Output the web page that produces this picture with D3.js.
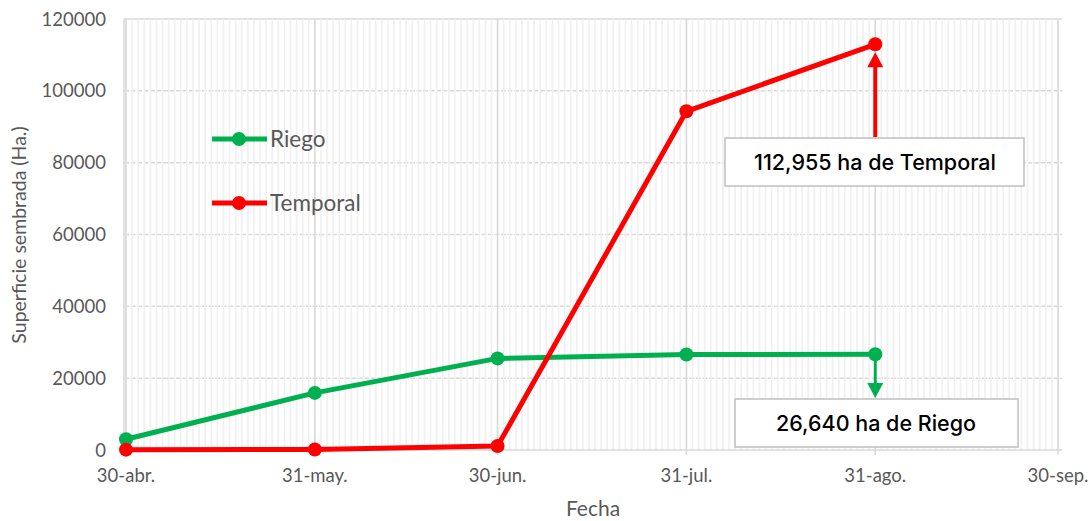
<!DOCTYPE html>
<html>
<head>
<meta charset="utf-8">
<script src="https://cdn.jsdelivr.net/npm/d3@7"></script>
<style>
  body { margin: 0; background: #fff; }
  svg { display: block; }
</style>
</head>
<body>
<div id="chart"></div>
<script>
// data
var fechas = ["2019-04-30", "2019-05-31", "2019-06-30", "2019-07-31", "2019-08-31"];
var riego = [3000, 15900, 25500, 26600, 26640];
var temporal = [100, 150, 1100, 94300, 112955];
var tickFechas = ["2019-04-30", "2019-05-31", "2019-06-30", "2019-07-31", "2019-08-31", "2019-09-30"];
var tickLabels = ["30-abr.", "31-may.", "30-jun.", "31-jul.", "31-ago.", "30-sep."];
var yTicks = [0, 20000, 40000, 60000, 80000, 100000, 120000];

var parse = d3.timeParse("%Y-%m-%d");
var W = 1092, H = 521;
var pLeft = 124, pRight = 1062, pTop = 19, pBottom = 450;

var svg = d3.select("#chart").append("svg").attr("width", W).attr("height", H);

var x = d3.scaleTime().domain([parse(tickFechas[0]), parse(tickFechas[5])]).range([126, 1058]);
var y = d3.scaleLinear().domain([0, 120000]).range([pBottom, pTop]);

var font = "Lato, 'Open Sans', sans-serif";
var grid = svg.append("g");

/* horizontal gridlines (dashed) */
grid.selectAll("line.h").data(yTicks.slice(1)).enter().append("line")
    .attr("x1", pLeft).attr("x2", pRight)
    .attr("y1", function(d) { return y(d); }).attr("y2", function(d) { return y(d); })
    .style("stroke", "#d9d9d9").style("stroke-width", 1.5)
    .style("stroke-dasharray", function(d) { return d == 120000 ? null : "5,1.5"; });

/* minor daily gridlines */
var days = d3.timeDay.range(parse(tickFechas[0]), d3.timeDay.offset(parse(tickFechas[5]), 1));
grid.selectAll("line.m").data(days).enter().append("line")
    .attr("x1", function(d) { return x(d); }).attr("x2", function(d) { return x(d); })
    .attr("y1", pTop).attr("y2", pBottom)
    .style("stroke", "#f0f0f0").style("stroke-width", 1.6);

/* major gridlines at ticks */
grid.selectAll("line.M").data(tickFechas).enter().append("line")
    .attr("x1", function(d) { return x(parse(d)); }).attr("x2", function(d) { return x(parse(d)); })
    .attr("y1", pTop).attr("y2", pBottom + 5)
    .style("stroke", "#d9d9d9").style("stroke-width", 1.5);

grid.append("line").attr("x1", pLeft).attr("x2", pLeft).attr("y1", pTop).attr("y2", pBottom)
    .style("stroke", "#d9d9d9").style("stroke-width", 1.5);
grid.append("line").attr("x1", pLeft).attr("x2", pRight).attr("y1", pBottom).attr("y2", pBottom)
    .style("stroke", "#d9d9d9").style("stroke-width", 1.5);

/* axis labels */
svg.selectAll("text.yt").data(yTicks).enter().append("text")
    .attr("x", 106).attr("y", function(d) { return y(d) + 6.5; })
    .attr("text-anchor", "end").attr("font-family", font).attr("font-size", "18.5px").attr("fill", "#595959")
    .text(function(d) { return d; });

svg.selectAll("text.xt").data(tickFechas).enter().append("text")
    .attr("x", function(d) { return x(parse(d)); }).attr("y", 482)
    .attr("text-anchor", "middle").attr("font-family", font).attr("font-size", "18.5px").attr("fill", "#595959")
    .text(function(d, i) { return tickLabels[i]; });

svg.append("text").attr("x", 593).attr("y", 516).attr("text-anchor", "middle")
    .attr("font-family", font).attr("font-size", "21px").attr("fill", "#595959").text("Fecha");
svg.append("text").attr("transform", "translate(26,235) rotate(-90)").attr("text-anchor", "middle")
    .attr("font-family", font).attr("font-size", "19.5px").attr("fill", "#595959").text("Superficie sembrada (Ha.)");

/* series */
var series = [
    { name: "Riego", values: riego, color: "#00b050" },
    { name: "Temporal", values: temporal, color: "#ff0000" }
];
var line = d3.line().x(function(d) { return x(d.f); }).y(function(d) { return y(d.v); });

series.forEach(function(s) {
    var pts = fechas.map(function(f, i) { return { f: parse(f), v: s.values[i] }; });
    svg.append("path").datum(pts).attr("d", line)
        .style("fill", "none").style("stroke", s.color).style("stroke-width", 5).style("stroke-linejoin", "round");
    svg.selectAll(null).data(pts).enter().append("circle")
        .attr("cx", function(d) { return x(d.f); }).attr("cy", function(d) { return y(d.v); })
        .attr("r", 7).style("fill", s.color);
});

/* legend */
series.forEach(function(s, i) {
    var ly = 139 + i * 64;
    svg.append("line").attr("x1", 212).attr("x2", 267).attr("y1", ly).attr("y2", ly)
        .style("stroke", s.color).style("stroke-width", 5);
    svg.append("circle").attr("cx", 239).attr("cy", ly).attr("r", 7).style("fill", s.color);
    svg.append("text").attr("x", 270).attr("y", ly + 8).attr("font-family", font).attr("font-size", "22.5px")
        .attr("fill", "#595959").text(s.name);
});

/* annotations */
var lastF = parse(fechas[4]);
var ax = x(lastF);
var annFont = "Inter, 'Noto Sans', sans-serif";

// temporal arrow up
var tY = y(temporal[4]);
svg.append("line").attr("x1", ax).attr("x2", ax).attr("y1", 137).attr("y2", tY + 20)
    .style("stroke", "#ff0000").style("stroke-width", 4);
svg.append("path").attr("d", "M" + (ax - 8) + "," + (tY + 23) + "L" + ax + "," + (tY + 8) + "L" + (ax + 8) + "," + (tY + 23) + "Z")
    .style("fill", "#ff0000");
svg.append("rect").attr("x", 725).attr("y", 138).attr("width", 299).attr("height", 48)
    .style("fill", "#fff").style("stroke", "#bfbfbf").style("stroke-width", 1.5);
svg.append("text").attr("x", 875).attr("y", 170).attr("text-anchor", "middle")
    .attr("font-family", annFont).attr("font-weight", 500).attr("font-size", "21.5px").attr("fill", "#000")
    .text("112,955 ha de Temporal");

// riego arrow down
var rY = y(riego[4]);
svg.append("line").attr("x1", ax).attr("x2", ax).attr("y1", rY).attr("y2", 385)
    .style("stroke", "#00b050").style("stroke-width", 3);
svg.append("path").attr("d", "M" + (ax - 8) + ",383L" + ax + ",398L" + (ax + 8) + ",383Z")
    .style("fill", "#00b050");
svg.append("rect").attr("x", 735).attr("y", 399).attr("width", 283).attr("height", 48)
    .style("fill", "#fff").style("stroke", "#bfbfbf").style("stroke-width", 1.5);
svg.append("text").attr("x", 876).attr("y", 431).attr("text-anchor", "middle")
    .attr("font-family", annFont).attr("font-weight", 500).attr("font-size", "21.5px").attr("fill", "#000")
    .text("26,640 ha de Riego");
</script>
</body>
</html>
